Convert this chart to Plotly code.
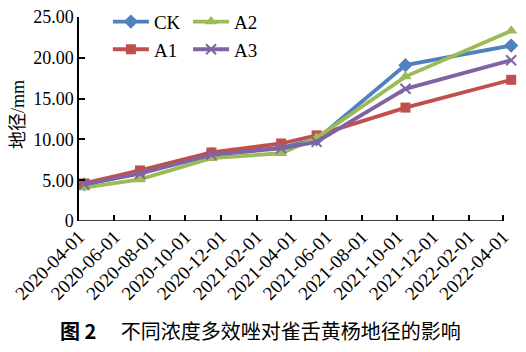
import plotly.graph_objects as go

dates = ["2020-04-10", "2020-07-15", "2020-11-15", "2021-03-15",
         "2021-05-15", "2021-10-15", "2022-04-15"]
ck = [4.5, 5.9, 8.2, 9.0, 10.0, 19.1, 21.5]
a1 = [4.6, 6.2, 8.4, 9.5, 10.5, 13.9, 17.3]
a2 = [4.1, 5.1, 7.7, 8.3, 10.2, 17.7, 23.3]
a3 = [4.5, 5.8, 8.1, 8.9, 9.7, 16.2, 19.7]

tick_dates = ["2020-04-01", "2020-06-01", "2020-08-01", "2020-10-01",
              "2020-12-01", "2021-02-01", "2021-04-01", "2021-06-01",
              "2021-08-01", "2021-10-01", "2021-12-01", "2022-02-01",
              "2022-04-01"]
y_ticks = [0, 5, 10, 15, 20, 25]
y_ticktext = ["0", "5.00", "10.00", "15.00", "20.00", "25.00"]

SERIF = "Liberation Serif, Times New Roman, serif"
CJK = "Noto Sans CJK SC"

series = [
    ("CK", ck, "#4F81BD", "diamond", 11, "legend"),
    ("A1", a1, "#C0504D", "square", 10, "legend"),
    ("A2", a2, "#9BBB59", "triangle-up", 11, "legend2"),
    ("A3", a3, "#8064A2", "x-thin", 10, "legend2"),
]

fig = go.Figure()
for name, vals, color, sym, size, leg in series:
    marker = dict(symbol=sym, size=size, color=color)
    if sym == "x-thin":
        marker["line"] = dict(color=color, width=2)
    fig.add_trace(go.Scatter(
        x=dates, y=vals, name=name, mode="lines+markers",
        line=dict(color=color, width=3.8), marker=marker,
        cliponaxis=False, legend=leg,
    ))

fig.add_shape(type="line", xref="x", yref="y",
              x0=tick_dates[0], x1=tick_dates[-1], y0=0, y1=0,
              line=dict(color="black", width=1.5), layer="above")

fig.update_layout(
    width=526, height=352,
    margin=dict(l=79, r=9, t=17, b=131, autoexpand=False),
    plot_bgcolor="white", paper_bgcolor="white",
    font=dict(family=SERIF, size=18, color="black"),
    legend=dict(x=0.066, y=1.07, xanchor="left", yanchor="top",
                bgcolor="rgba(0,0,0,0)", font=dict(size=19, family=SERIF),
                tracegroupgap=0, itemwidth=36),
    legend2=dict(x=0.249, y=1.07, xanchor="left", yanchor="top",
                 bgcolor="rgba(0,0,0,0)", font=dict(size=19, family=SERIF),
                 tracegroupgap=0, itemwidth=36),
    xaxis=dict(type="date", range=["2020-04-01", "2022-04-25"],
               tickvals=tick_dates, ticktext=tick_dates,
               tickangle=-45, ticks="inside", ticklen=6, tickwidth=1.5,
               tickcolor="black", showline=False, showgrid=False,
               zeroline=False, tickfont=dict(size=19, family=SERIF)),
    yaxis=dict(range=[0, 25], tickvals=y_ticks, ticktext=y_ticktext,
               ticks="inside", ticklen=6, tickwidth=1.5, tickcolor="black",
               showline=True, linecolor="black", linewidth=1.5,
               showgrid=False, zeroline=False,
               tickfont=dict(size=18, family=SERIF)),
    annotations=[
        dict(text="地径/mm", textangle=-90, xref="paper", yref="paper",
             x=-0.139, y=0.52, xanchor="center", yanchor="middle",
             showarrow=False, font=dict(size=18, family=SERIF + ", " + CJK)),
        dict(text="<b>图 2</b>\u3000 不同浓度多效唑对雀舌黄杨地径的影响",
             xref="paper", yref="paper", x=0.415, y=-0.535,
             xanchor="center", yanchor="middle", showarrow=False,
             font=dict(size=20, family=CJK)),
    ],
)

fig.write_html("out.html")
